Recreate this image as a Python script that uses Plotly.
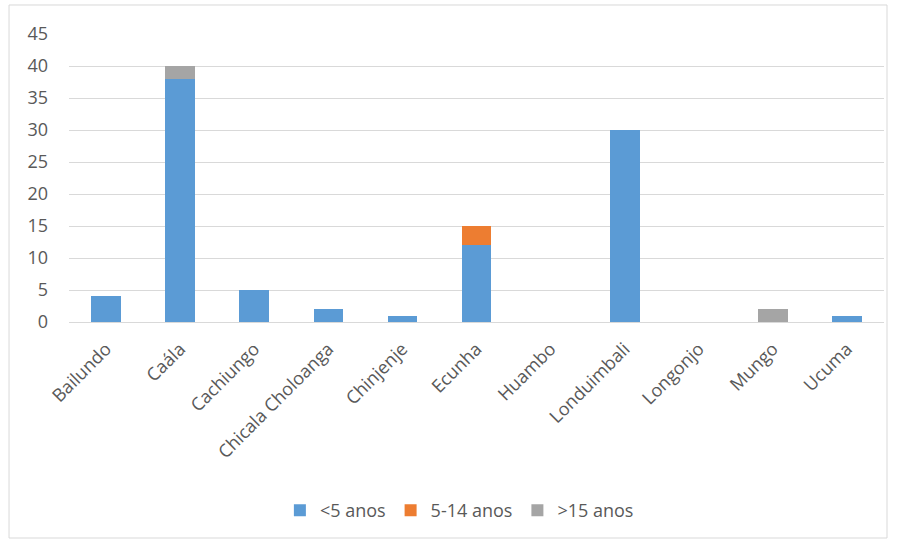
import plotly.graph_objects as go

# Municipalities and case counts by age group
municipios = ["Bailundo", "Caála", "Cachiungo", "Chicala Choloanga", "Chinjenje",
              "Ecunha", "Huambo", "Londuimbali", "Longonjo", "Mungo", "Ucuma"]
menos_5 = [4, 38, 5, 2, 1, 12, 0, 30, 0, 0, 1]
de_5_14 = [0, 0, 0, 0, 0, 3, 0, 0, 0, 0, 0]
mais_15 = [0, 2, 0, 0, 0, 0, 0, 0, 0, 2, 0]
y_ticks = [0, 5, 10, 15, 20, 25, 30, 35, 40, 45]

series = [
    ("<5 anos", menos_5, "#5B9BD5"),
    ("5-14 anos", de_5_14, "#ED7D31"),
    (">15 anos", mais_15, "#A5A5A5"),
]

fig = go.Figure()
for name, vals, color in series:
    fig.add_trace(go.Bar(x=municipios, y=vals, name=name,
                         marker=dict(color=color, line=dict(width=0))))

font_family = "'Open Sans', sans-serif"
txt = "#595959"

fig.update_layout(
    barmode="stack",
    bargap=0.6,
    width=897, height=543,
    margin=dict(l=69, r=13, t=34, b=221),
    paper_bgcolor="white",
    plot_bgcolor="white",
    font=dict(family=font_family, size=18, color=txt),
    showlegend=True,
    legend=dict(orientation="h", x=0.479, xanchor="center", y=-0.655, yanchor="middle",
                font=dict(size=18, color=txt), itemwidth=30, traceorder="normal"),
    xaxis=dict(tickangle=-45, showgrid=False, showline=False, ticks="",
               ticklabelstandoff=12, tickfont=dict(size=18, color=txt)),
    yaxis=dict(range=[0, 45], tickvals=y_ticks, showgrid=True, gridcolor="#D9D9D9",
               gridwidth=1, zeroline=True, zerolinecolor="#D9D9D9", zerolinewidth=1,
               showline=False, ticks="", ticklabelstandoff=20,
               tickfont=dict(size=18, color=txt)),
    shapes=[dict(type="rect", xref="paper", yref="paper",
                 x0=-0.0736, x1=1.0037, y0=-0.75, y1=1.1007,
                 line=dict(color="#D9D9D9", width=1), fillcolor="rgba(0,0,0,0)",
                 layer="below")],
)

fig.write_html("out.html")
